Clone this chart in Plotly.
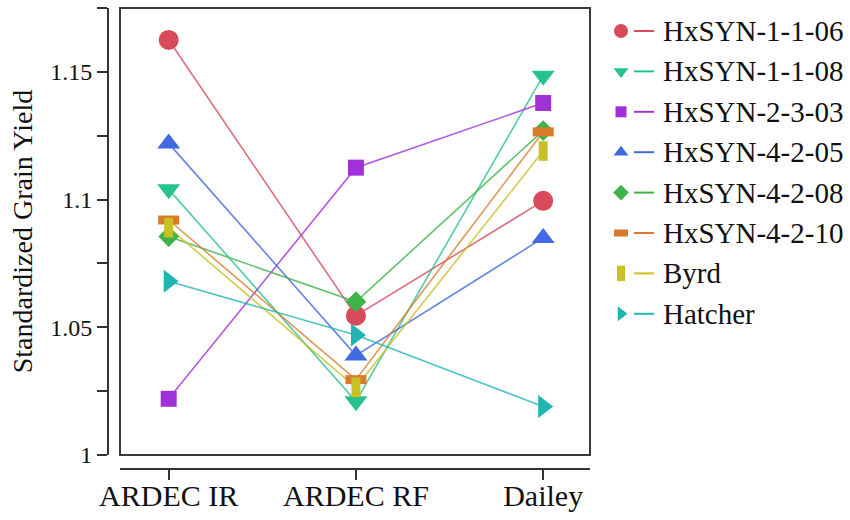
import plotly.graph_objects as go

sites = ["ARDEC IR", "ARDEC RF", "Dailey"]
names = ["HxSYN-1-1-06", "HxSYN-1-1-08", "HxSYN-2-3-03", "HxSYN-4-2-05",
         "HxSYN-4-2-08", "HxSYN-4-2-10", "Byrd", "Hatcher"]
v_1_1_06 = [1.1625, 1.0545, 1.0995]
v_1_1_08 = [1.1040, 1.0210, 1.1485]
v_2_3_03 = [1.0220, 1.1125, 1.1378]
v_4_2_05 = [1.1220, 1.0390, 1.0850]
v_4_2_08 = [1.0855, 1.0600, 1.1270]
v_4_2_10 = [1.0920, 1.0295, 1.1265]
v_byrd = [1.0890, 1.0265, 1.1190]
v_hatcher = [1.0680, 1.0470, 1.0190]
series = [v_1_1_06, v_1_1_08, v_2_3_03, v_4_2_05, v_4_2_08, v_4_2_10, v_byrd, v_hatcher]
y_ticks = [1, 1.025, 1.05, 1.075, 1.1, 1.125, 1.15, 1.175]
y_ticktext = ["1", "", "1.05", "", "1.1", "", "1.15", ""]

colors = ["#D84A5C", "#26C28F", "#A030D8", "#4169E1", "#3DB34A", "#D97B2B", "#C9C123", "#20B5B3"]
symbols = ["circle", "triangle-down", "square", "triangle-up", "diamond", "line-ew", "line-ns", "triangle-right"]
sizes = [20, 20, 16, 20, 16, 15, 14, 20]
mark_lw = [0, 0, 0, 0, 0, 9, 9, 0]
lsizes = [14, 13, 11, 13, 12, 10, 11, 13]
leg_lw = [0, 0, 0, 0, 0, 7, 8, 0]

FONT = "Liberation Serif, Times New Roman, serif"
W, H = 850, 520

fig = go.Figure()

for name, vals, c in zip(names, series, colors):
    fig.add_trace(go.Scatter(x=sites, y=vals, mode="lines", line=dict(color=c, width=1.6),
                             opacity=0.8, showlegend=False, hoverinfo="skip"))

def marker_dict(sym, size, c, lw):
    if sym.startswith("line"):
        return dict(symbol=sym, size=size, color=c, line=dict(color=c, width=lw))
    return dict(symbol=sym, size=size, color=c, line=dict(width=0))

for name, vals, c, s, sz, lw in zip(names, series, colors, symbols, sizes, mark_lw):
    fig.add_trace(go.Scatter(x=sites, y=vals, mode="markers", name=name,
                             marker=marker_dict(s, sz, c, lw), showlegend=False))

row0, dy = 31, 40.4
for i, (name, c, s, sz, lw) in enumerate(zip(names, colors, symbols, lsizes, leg_lw)):
    yy = row0 + dy * i
    fig.add_trace(go.Scatter(x=[621], y=[yy], mode="markers", xaxis="x2", yaxis="y2",
                             marker=marker_dict(s, sz, c, lw), showlegend=False, hoverinfo="skip"))
    fig.add_shape(type="line", xref="x2", yref="y2", x0=634, x1=654, y0=yy, y1=yy,
                  line=dict(color=c, width=2))
    fig.add_annotation(x=661, y=yy, xref="x2", yref="y2", text=name, showarrow=False,
                       xanchor="left", yanchor="middle", font=dict(family=FONT, size=29, color="#111"))

fig.add_shape(type="rect", xref="x domain", yref="y domain", x0=0, x1=1, y0=0, y1=1,
              line=dict(color="#3a3a3a", width=2), layer="above")

fig.update_layout(
    width=W, height=H, margin=dict(l=0, r=0, t=0, b=0, autoexpand=False),
    paper_bgcolor="white", plot_bgcolor="rgba(0,0,0,0)",
    font=dict(family=FONT, color="#111"),
    showlegend=False,
    xaxis=dict(domain=[120 / W, 590 / W], type="category", range=[-0.26, 2.25],
               anchor="free", position=(H - 469) / H, automargin=False,
               showline=True, linecolor="#333", linewidth=2,
               ticks="outside", ticklen=10, tickwidth=2, tickcolor="#333",
               ticklabelstandoff=-10,
               tickfont=dict(family=FONT, size=30, color="#111"),
               showgrid=False, zeroline=False),
    yaxis=dict(domain=[(H - 455) / H, (H - 8) / H], range=[1, 1.175],
               anchor="free", position=108 / W, automargin=False,
               tickmode="array", tickvals=y_ticks, ticktext=y_ticktext,
               showline=True, linecolor="#333", linewidth=2,
               ticks="outside", ticklen=10, tickwidth=2, tickcolor="#333",
               tickfont=dict(family=FONT, size=24, color="#111"),
               title=dict(text="Standardized Grain Yield", font=dict(family=FONT, size=28, color="#111"), standoff=8),
               showgrid=False, zeroline=False),
    xaxis2=dict(domain=[0, 1], range=[0, W], anchor="y2", visible=False, fixedrange=True),
    yaxis2=dict(domain=[0, 1], range=[H, 0], anchor="x2", visible=False, fixedrange=True),
)

fig.write_html("out.html", config={"displayModeBar": False},
               post_script="document.body.style.margin='0';")
